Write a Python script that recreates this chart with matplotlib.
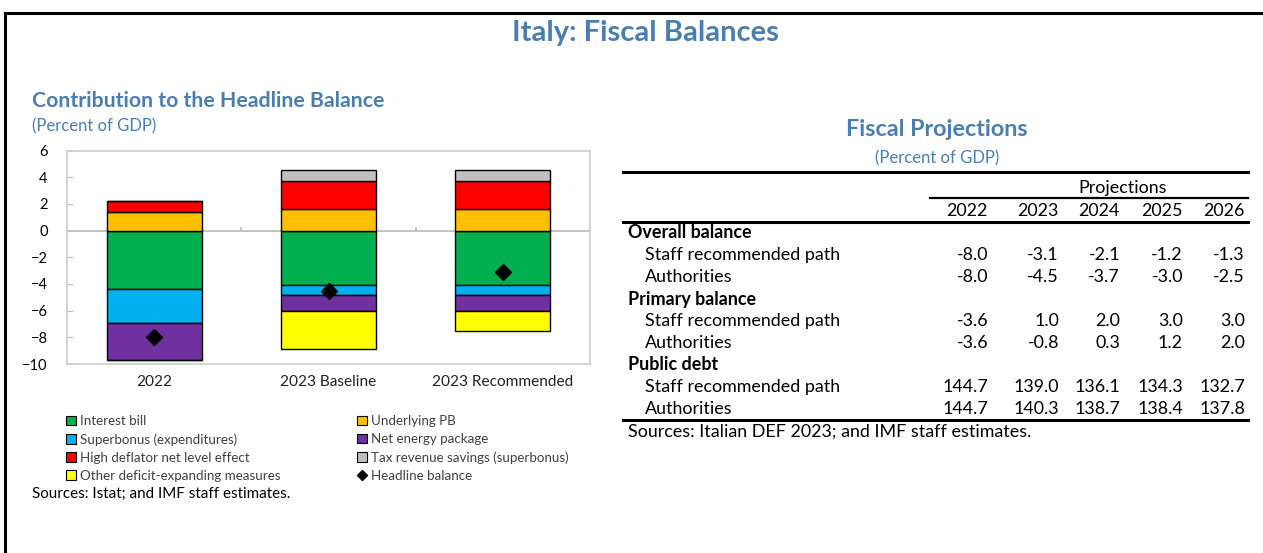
import matplotlib
matplotlib.use("Agg")
import matplotlib.pyplot as plt
from matplotlib.patches import Patch
from matplotlib.lines import Line2D
import numpy as np

plt.rcParams['font.family'] = ['Lato', 'DejaVu Sans']

W, H = 1263, 553
BLUE = '#4A7EB0'

# contribution chart data (percent of GDP)
categories = ['2022', '2023 Baseline', '2023 Recommended']
interest_bill = [-4.4, -4.05, -4.05]
superbonus_exp = [-2.5, -0.75, -0.75]
net_energy = [-2.8, -1.2, -1.2]
other_measures = [0.0, -2.9, -1.5]
underlying_pb = [1.4, 1.65, 1.65]
high_deflator = [0.8, 2.1, 2.1]
tax_savings = [0.0, 0.8, 0.8]
headline = [-8.0, -4.5, -3.1]

# fiscal projections table
years = ['2022', '2023', '2024', '2025', '2026']
overall_staff = [-8.0, -3.1, -2.1, -1.2, -1.3]
overall_auth = [-8.0, -4.5, -3.7, -3.0, -2.5]
primary_staff = [-3.6, 1.0, 2.0, 3.0, 3.0]
primary_auth = [-3.6, -0.8, 0.3, 1.2, 2.0]
debt_staff = [144.7, 139.0, 136.1, 134.3, 132.7]
debt_auth = [144.7, 140.3, 138.7, 138.4, 137.8]

fig = plt.figure(figsize=(W / 100, H / 100), dpi=100)


def fx(px):
    return px / W


def fy(py):
    return 1 - py / H


def hline(x0, x1, y, lw, color='black'):
    fig.add_artist(Line2D([fx(x0), fx(x1)], [fy(y), fy(y)], lw=lw, color=color,
                          transform=fig.transFigure))


# outer frame (top and left)
fig.add_artist(Line2D([fx(5), fx(W)], [fy(13), fy(13)], lw=2.2, color='black',
                      transform=fig.transFigure))
fig.add_artist(Line2D([fx(5), fx(5)], [fy(13), 0], lw=2.2, color='black',
                      transform=fig.transFigure))

fig.text(fx(645), fy(33), 'Italy: Fiscal Balances', ha='center', va='center',
         fontsize=21, fontweight='bold', color=BLUE)

# ---- left panel: stacked bars ----
fig.text(fx(32), fy(101), 'Contribution to the Headline Balance', ha='left', va='center',
         fontsize=15.3, fontweight='bold', color=BLUE)
fig.text(fx(32), fy(126), '(Percent of GDP)', ha='left', va='center',
         fontsize=12, color=BLUE)

ax = fig.add_axes([fx(67), fy(364), fx(590) - fx(67), fy(150.5) - fy(364)])
x = np.arange(len(categories))
bw = 0.545

neg_series = [(interest_bill, '#00B050', 'Interest bill'),
              (superbonus_exp, '#00B0F0', 'Superbonus (expenditures)'),
              (net_energy, '#7030A0', 'Net energy package'),
              (other_measures, '#FFFF00', 'Other deficit-expanding measures')]
pos_series = [(underlying_pb, '#FFC000', 'Underlying PB'),
              (high_deflator, '#FF0000', 'High deflator net level effect'),
              (tax_savings, '#BFBFBF', 'Tax revenue savings (superbonus)')]

colors = {}
bottom = np.zeros(len(categories))
for vals, col, name in neg_series:
    v = np.array(vals)
    ax.bar(x, v, bw, bottom=bottom, color=col, edgecolor='black', linewidth=1, zorder=3)
    bottom = bottom + v
    colors[name] = col
bottom = np.zeros(len(categories))
for vals, col, name in pos_series:
    v = np.array(vals)
    ax.bar(x, v, bw, bottom=bottom, color=col, edgecolor='black', linewidth=1, zorder=3)
    bottom = bottom + v
    colors[name] = col

ax.plot(x, headline, linestyle='none', marker='D', markersize=8.5, color='black', zorder=5)

ax.set_xlim(-0.5, 2.5)
ax.set_ylim(-10, 6)
ax.set_yticks(range(-10, 7, 2))
ax.set_xticks([])
ax.axhline(0, color='#BFBFBF', lw=1.3, zorder=2)
ax.vlines([0.5, 1.5], 0, 0.3, color='#BFBFBF', lw=1.3, zorder=2)
for s in ax.spines.values():
    s.set_color('#D0D0D0')
    s.set_linewidth(1.3)
ax.tick_params(axis='y', direction='in', length=4, color='#BFBFBF', labelsize=10.5,
               pad=14)
for lbl in ax.get_yticklabels():
    lbl.set_horizontalalignment('right')
for xi, c in zip(x, categories):
    ax.text(xi, -10.8, c, ha='center', va='top', fontsize=11.1, color='#222222')

col1 = ['Interest bill', 'Superbonus (expenditures)', 'High deflator net level effect',
        'Other deficit-expanding measures']
col2 = ['Underlying PB', 'Net energy package', 'Tax revenue savings (superbonus)']
leg_kw = dict(frameon=False, fontsize=9.6, handlelength=0.72, handleheight=0.72,
              handletextpad=0.3, labelspacing=0.45, borderpad=0, borderaxespad=0,
              labelcolor='#404040')
h1 = [Patch(facecolor=colors[n], edgecolor='black', linewidth=0.8) for n in col1]
fig.legend(h1, col1, loc='upper left', bbox_to_anchor=(fx(66), fy(415)), **leg_kw)
h2 = [Patch(facecolor=colors[n], edgecolor='black', linewidth=0.8) for n in col2]
h2.append(Line2D([], [], linestyle='none', marker='D', markersize=5, color='black'))
fig.legend(h2, col2 + ['Headline balance'], loc='upper left',
           bbox_to_anchor=(fx(357), fy(415)), **leg_kw)

fig.text(fx(32), fy(494), 'Sources: Istat; and IMF staff estimates.', ha='left',
         va='center', fontsize=10.9, color='black')

# ---- right panel: projections table ----
fig.text(fx(937), fy(130), 'Fiscal Projections', ha='center', va='center',
         fontsize=16.8, fontweight='bold', color=BLUE)
fig.text(fx(937), fy(158), '(Percent of GDP)', ha='center', va='center',
         fontsize=12, color=BLUE)

hline(623, 1248, 172, 2.2)
fig.text(fx(1123), fy(188), 'Projections', ha='center', va='center', fontsize=12.9)
hline(930, 1248, 198, 1.6)
col_x = [988, 1059, 1120, 1183, 1245]
for cx, yr in zip(col_x, years):
    fig.text(fx(cx), fy(211), yr, ha='right', va='center', fontsize=12.9)
hline(623, 1248, 222, 2.2)

rows = [('Overall balance', None), ('Staff recommended path', overall_staff),
        ('Authorities', overall_auth), ('Primary balance', None),
        ('Staff recommended path', primary_staff), ('Authorities', primary_auth),
        ('Public debt', None), ('Staff recommended path', debt_staff),
        ('Authorities', debt_auth)]
ry = 233
for label, vals in rows:
    if vals is None:
        fig.text(fx(628), fy(ry), label, ha='left', va='center', fontsize=12.9,
                 fontweight='bold')
    else:
        fig.text(fx(645), fy(ry), label, ha='left', va='center', fontsize=12.9)
        for cx, v in zip(col_x, vals):
            fig.text(fx(cx), fy(ry), f'{v:.1f}', ha='right', va='center', fontsize=12.9)
    ry += 22

hline(623, 1248, 420, 2.2)
fig.text(fx(628), fy(432), 'Sources: Italian DEF 2023; and IMF staff estimates.',
         ha='left', va='center', fontsize=12.9)

fig.savefig('out.png', dpi=100)
